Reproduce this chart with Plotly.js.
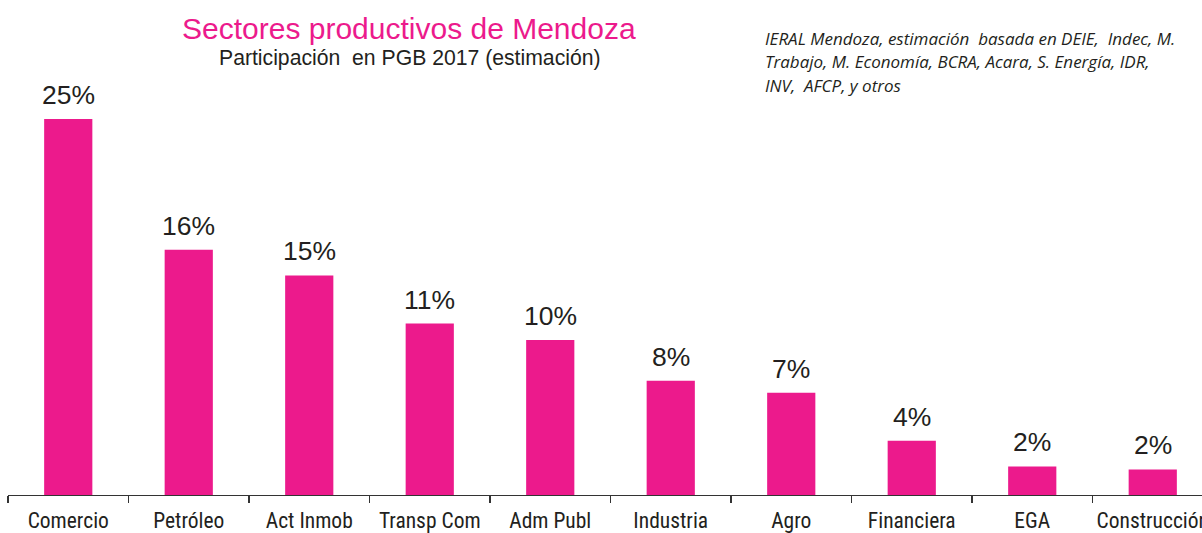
<!DOCTYPE html>
<html><head><meta charset="utf-8">
<script src="https://cdn.plot.ly/plotly-3.0.1.min.js"></script>
<style>html,body{margin:0;padding:0;background:#fff}#chart{width:1202px;height:533px}</style>
</head><body><div id="chart"></div>
<script>
const categories = ["Comercio","Petróleo","Act Inmob","Transp Com","Adm Publ","Industria","Agro","Financiera","EGA","Construcción"];
const values = [25.0, 16.3, 14.6, 11.4, 10.3, 7.6, 6.8, 3.6, 1.9, 1.7];
const labels = ["25%","16%","15%","11%","10%","8%","7%","4%","2%","2%"];
const titleText = "Sectores productivos de Mendoza";
const subtitleText = "Participación  en PGB 2017 (estimación)";
const sourceLines = ["IERAL Mendoza, estimación  basada en DEIE,  Indec, M.","Trabajo, M. Economía, BCRA, Acara, S. Energía, IDR,","INV,  AFCP, y otros"];

const magenta = "#EC1A8C";
const L = 8, W = 1194, B = 495;
function px(x){return (x-L)/W;}
function py(y){return (B-y)/B;}
const annotations = categories.map((c,i)=>({
  x: c, y: values[i], xref:"x", yref:"y", text: labels[i], showarrow:false,
  yanchor:"bottom", yshift:7, font:{family:"Liberation Sans, Arial, sans-serif", size:26.5, color:"#231F20"}
}));
annotations.push({xref:"paper", yref:"paper", x:px(409), y:py(28), xanchor:"center", yanchor:"middle", text:titleText, showarrow:false,
  font:{family:"Liberation Sans, Arial, sans-serif", size:30, color:magenta}});
annotations.push({xref:"paper", yref:"paper", x:px(410), y:py(58), xanchor:"center", yanchor:"middle", text:subtitleText, showarrow:false,
  font:{family:"Liberation Sans, Arial, sans-serif", size:21.2, color:"#231F20"}});
sourceLines.forEach((t,i)=>{
  annotations.push({xref:"paper", yref:"paper", x:px(763), y:py(38+i*23.5), xanchor:"left", yanchor:"middle", text:"<i>"+t+"</i>", showarrow:false,
    font:{family:"Open Sans, sans-serif", size:17, color:"#231F20"}});
});

const trace = {type:"bar", x:categories, y:values, marker:{color:magenta}, width:0.4, hoverinfo:"none"};
const layout = {
  width:1202, height:533, margin:{l:L, r:0, t:0, b:533-B},
  paper_bgcolor:"#fff", plot_bgcolor:"#fff", showlegend:false,
  xaxis:{type:"category", range:[-0.5, -0.5 + W/120.5], showline:true, linecolor:"#333", linewidth:1.3,
    ticks:"outside", tickson:"boundaries", ticklen:7, tickcolor:"#333", tickwidth:1.3, tickangle:0, ticklabelstandoff:6,
    tickfont:{family:"Liberation Sans Narrow, Arial Narrow, Roboto Condensed, sans-serif", size:21.5, color:"#231F20"}, showgrid:false, zeroline:false},
  yaxis:{range:[0, B/15.04], visible:false, showgrid:false, zeroline:false},
  annotations: annotations
};
Plotly.newPlot("chart", [trace], layout, {displayModeBar:false, staticPlot:true});
</script></body></html>
